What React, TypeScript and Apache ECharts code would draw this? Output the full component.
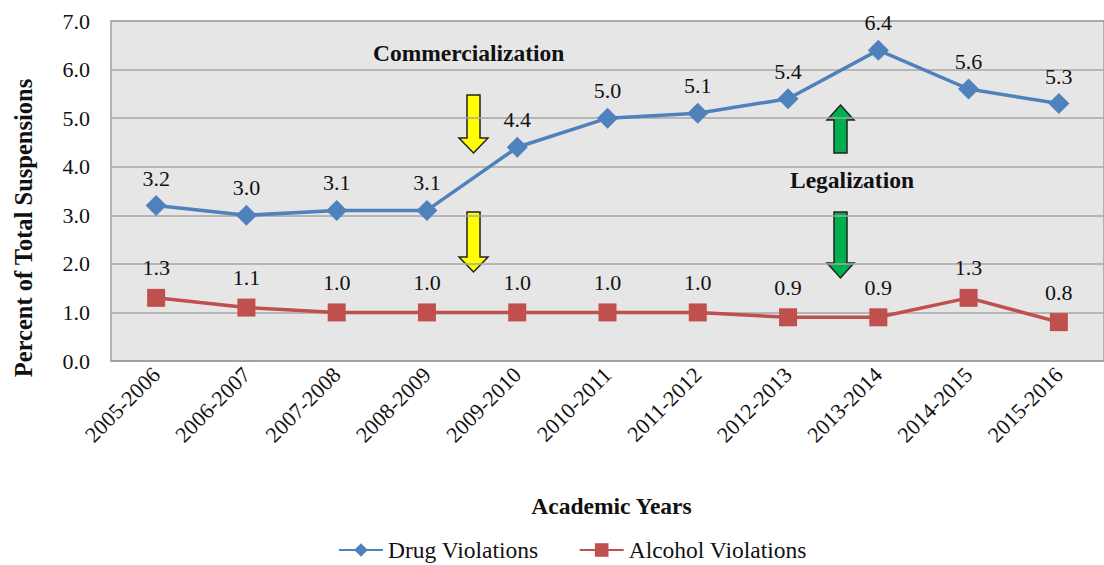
import React, { useEffect, useRef } from "react";
import * as echarts from "echarts";

const categories = [
  "2005-2006", "2006-2007", "2007-2008", "2008-2009", "2009-2010", "2010-2011",
  "2011-2012", "2012-2013", "2013-2014", "2014-2015", "2015-2016",
];
const drugViolations = [3.2, 3.0, 3.1, 3.1, 4.4, 5.0, 5.1, 5.4, 6.4, 5.6, 5.3];
const alcoholViolations = [1.3, 1.1, 1.0, 1.0, 1.0, 1.0, 1.0, 0.9, 0.9, 1.3, 0.8];
const yTicks = { min: 0, max: 7, interval: 1 };

const FONT = "Liberation Serif";

function downArrow(cx: number, top: number, headStart: number, tip: number, sw: number, hw: number) {
  return [
    [cx - sw / 2, top], [cx + sw / 2, top], [cx + sw / 2, headStart], [cx + hw / 2, headStart],
    [cx, tip], [cx - hw / 2, headStart], [cx - sw / 2, headStart],
  ];
}
function upArrow(cx: number, tip: number, headEnd: number, bottom: number, sw: number, hw: number) {
  return [
    [cx, tip], [cx + hw / 2, headEnd], [cx + sw / 2, headEnd], [cx + sw / 2, bottom],
    [cx - sw / 2, bottom], [cx - sw / 2, headEnd], [cx - hw / 2, headEnd],
  ];
}

export default function App() {
  const ref = useRef<HTMLDivElement>(null);
  useEffect(() => {
    if (!ref.current) return;
    const chart = echarts.init(ref.current, null, { renderer: "svg" });
    const yellow = { fill: "#FFFF00", stroke: "#222", lineWidth: 1.5 };
    const green = { fill: "#00B050", stroke: "#222", lineWidth: 1.5 };
    const labelStyle = {
      show: true, position: "top",
      formatter: (p: any) => Number(p.value).toFixed(1),
      fontFamily: FONT, fontSize: 22, color: "#111",
    };
    chart.setOption({
      animation: false,
      backgroundColor: "#ffffff",
      textStyle: { fontFamily: FONT },
      grid: {
        left: 111, top: 21, width: 1002, height: 340,
        show: true, backgroundColor: "#E6E6E6", borderColor: "#9F9F9F", borderWidth: 1.5,
      },
      legend: {
        bottom: -2, left: 333,
        itemWidth: 44, itemHeight: 17, itemGap: 40,
        textStyle: { fontFamily: FONT, fontSize: 23.5, color: "#111" },
        data: ["Drug Violations", "Alcohol Violations"],
      },
      xAxis: {
        type: "category",
        data: categories,
        boundaryGap: true,
        axisLine: { show: true, lineStyle: { color: "#9F9F9F", width: 1.5 } },
        axisTick: { show: false },
        axisLabel: { rotate: 45, fontFamily: FONT, fontSize: 22, color: "#111", margin: 10, interval: 0 },
        name: "Academic Years",
        nameLocation: "middle",
        nameGap: 133,
        nameTextStyle: { fontFamily: FONT, fontSize: 23.5, fontWeight: "bold", color: "#111", padding: [0, 0, 0, 8] },
      },
      yAxis: {
        type: "value",
        min: yTicks.min, max: yTicks.max, interval: yTicks.interval,
        axisLine: { show: false },
        axisTick: { show: false },
        splitLine: { show: true, lineStyle: { color: "#A6A6A6", width: 1.5 } },
        axisLabel: { formatter: (v: number) => v.toFixed(1), fontFamily: FONT, fontSize: 22, color: "#111", margin: 21 },
      },
      series: [
        {
          name: "Drug Violations",
          type: "line",
          data: drugViolations,
          symbol: "diamond",
          symbolSize: 21,
          lineStyle: { color: "#4F81BD", width: 3.5 },
          itemStyle: { color: "#4F81BD" },
          label: { ...labelStyle, distance: 6 },
        },
        {
          name: "Alcohol Violations",
          type: "line",
          data: alcoholViolations,
          symbol: "rect",
          symbolSize: 18,
          lineStyle: { color: "#C0504D", width: 3.5 },
          itemStyle: { color: "#C0504D" },
          label: { ...labelStyle, distance: 10 },
        },
      ],
      graphic: [
        {
          type: "text", x: 23, y: 228, rotation: Math.PI / 2,
          style: { text: "Percent of Total Suspensions", fontFamily: FONT, fontSize: 24.5, fontWeight: "bold", fill: "#111", align: "center", verticalAlign: "middle" },
        },
        { type: "text", left: 373, top: 41, style: { text: "Commercialization", fontFamily: FONT, fontSize: 23.5, fontWeight: "bold", fill: "#111" } },
        { type: "text", left: 790, top: 168, style: { text: "Legalization", fontFamily: FONT, fontSize: 23.5, fontWeight: "bold", fill: "#111" } },
        { type: "polygon", shape: { points: downArrow(473.5, 95, 138, 153, 13, 29) }, style: yellow },
        { type: "polygon", shape: { points: downArrow(473.5, 212, 257, 272, 13, 29) }, style: yellow },
        { type: "polygon", shape: { points: upArrow(840.5, 105, 120, 153, 13, 27) }, style: green },
        { type: "polygon", shape: { points: downArrow(840.5, 212, 263, 278, 13, 27) }, style: green },
      ],
    });
    return () => chart.dispose();
  }, []);
  return (
    <div
      ref={ref}
      style={{ position: "fixed", left: 0, top: 0, width: 1104, height: 565 }}
    />
  );
}
